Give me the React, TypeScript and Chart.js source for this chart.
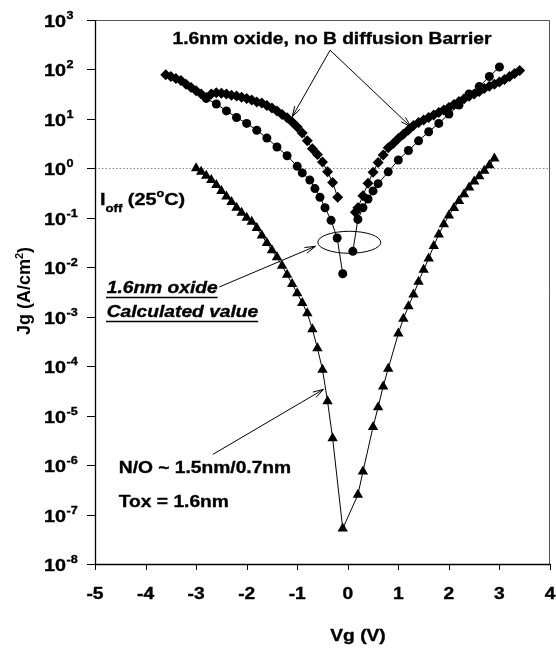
import React, { useEffect, useRef } from 'react';
import { Chart, registerables } from 'chart.js';

Chart.register(...registerables);

// ---- data (Vg in V, Jg in A/cm^2) ----
const diamondLeftX = [-3.6, -3.5, -3.4, -3.3, -3.2, -3.1, -3.0, -2.9, -2.8, -2.7, -2.6, -2.5, -2.4, -2.3, -2.2, -2.1, -2.0, -1.9, -1.8, -1.7, -1.6, -1.5, -1.4, -1.3, -1.2, -1.1, -1.0, -0.9, -0.8, -0.7, -0.6, -0.5, -0.4, -0.3, -0.2];
const diamondLeftY = [78, 72, 66, 60, 50, 43, 37, 32, 27, 32, 34, 33, 32, 30, 29, 27.5, 26, 24, 22, 21, 18.6, 16.6, 14.5, 12.3, 10.5, 8.7, 6.9, 5.2, 3.6, 2.5, 1.9, 1.35, 0.85, 0.52, 0.26];

const diamondRightX = [0.15, 0.2, 0.3, 0.4, 0.5, 0.6, 0.7, 0.8, 0.9, 1.0, 1.1, 1.2, 1.3, 1.4, 1.5, 1.6, 1.7, 1.8, 1.9, 2.0, 2.1, 2.2, 2.3, 2.4, 2.5, 2.6, 2.7, 2.8, 2.9, 3.0, 3.1, 3.2, 3.3, 3.4];
const diamondRightY = [0.13, 0.16, 0.28, 0.5, 0.83, 1.32, 1.86, 2.6, 3.2, 4.0, 4.9, 6.0, 7.4, 8.5, 9.5, 10.7, 12.0, 13.5, 15.1, 17.0, 19.5, 22.4, 25.7, 28.8, 32, 36, 41, 46, 50, 56, 63, 72, 83, 95];

const circleLeftX = [-2.8, -2.6, -2.4, -2.2, -2.0, -1.8, -1.6, -1.4, -1.2, -1.0, -0.9, -0.75, -0.65, -0.55, -0.45, -0.33, -0.21, -0.1];
const circleLeftY = [26, 20, 14.5, 10.7, 8.1, 5.9, 4.1, 2.7, 1.8, 1.1, 0.81, 0.58, 0.39, 0.26, 0.16, 0.089, 0.039, 0.0074];

const circleRightX = [0.1, 0.2, 0.3, 0.4, 0.5, 0.6, 0.8, 1.0, 1.2, 1.4, 1.6, 1.8, 2.0, 2.2, 2.4, 2.6, 2.8, 3.0];
const circleRightY = [0.021, 0.093, 0.16, 0.24, 0.35, 0.49, 0.85, 1.48, 2.3, 3.6, 5.5, 8.1, 12.6, 19, 32, 45, 72, 112];

const triangleX = [-3.0, -2.9, -2.8, -2.7, -2.6, -2.5, -2.4, -2.3, -2.2, -2.1, -2.0, -1.9, -1.8, -1.7, -1.6, -1.5, -1.4, -1.3, -1.2, -1.1, -1.0, -0.9, -0.8, -0.7, -0.6, -0.5, -0.4, -0.3, -0.1, 0.2, 0.3, 0.5, 0.6, 0.7, 0.8, 1.0, 1.1, 1.2, 1.3, 1.4, 1.5, 1.6, 1.7, 1.8, 1.9, 2.0, 2.1, 2.2, 2.3, 2.4, 2.5, 2.6, 2.7, 2.8, 2.9];
const triangleY = [1.0, 0.85, 0.71, 0.58, 0.46, 0.35, 0.27, 0.21, 0.16, 0.126, 0.1, 0.083, 0.062, 0.044, 0.031, 0.022, 0.016, 0.0107, 0.0071, 0.0046, 0.003, 0.0019, 0.00117, 5.6e-4, 2.3e-4, 8.5e-5, 1.95e-5, 3.5e-6, 5.2e-8, 2.5e-7, 7.4e-7, 5.9e-6, 1.48e-5, 3.9e-5, 8.9e-5, 4.6e-4, 9.1e-4, 1.62e-3, 2.8e-3, 5.1e-3, 8.9e-3, 0.015, 0.027, 0.046, 0.074, 0.112, 0.158, 0.22, 0.3, 0.41, 0.54, 0.69, 0.89, 1.15, 1.58];

const xTickValues = [-5, -4, -3, -2, -1, 0, 1, 2, 3, 4];
const yTickExponents = [3, 2, 1, 0, -1, -2, -3, -4, -5, -6, -7, -8];

const FONT = '"Liberation Sans", Arial, Helvetica, sans-serif';
const SX = 1.2;

function toPoints(xs: number[], ys: number[]) {
  return xs.map((x, i) => ({ x, y: ys[i] }));
}

function drawText(ctx: CanvasRenderingContext2D, s: string, x: number, y: number, size: number, align = 'left', italic = false, sx = SX) {
  ctx.save();
  ctx.font = `${italic ? 'italic ' : ''}bold ${size}px ${FONT}`;
  const w = ctx.measureText(s).width * sx;
  let x0 = x;
  if (align === 'center') x0 = x - w / 2;
  else if (align === 'right') x0 = x - w;
  ctx.translate(x0, y);
  ctx.scale(sx, 1);
  ctx.textAlign = 'left';
  ctx.textBaseline = 'alphabetic';
  ctx.fillStyle = '#000';
  ctx.strokeStyle = '#000';
  ctx.lineWidth = 0.35;
  ctx.fillText(s, 0, 0);
  ctx.strokeText(s, 0, 0);
  ctx.restore();
  return w;
}

function arrow(ctx: CanvasRenderingContext2D, x1: number, y1: number, x2: number, y2: number, head = 11, ang = 0.28) {
  ctx.beginPath();
  ctx.moveTo(x1, y1);
  ctx.lineTo(x2, y2);
  ctx.stroke();
  const a = Math.atan2(y2 - y1, x2 - x1);
  ctx.beginPath();
  ctx.moveTo(x2 - head * Math.cos(a - ang), y2 - head * Math.sin(a - ang));
  ctx.lineTo(x2, y2);
  ctx.lineTo(x2 - head * Math.cos(a + ang), y2 - head * Math.sin(a + ang));
  ctx.stroke();
}

const decorPlugin = {
  id: 'decor',
  beforeDatasetsDraw(chart: any) {
    const { ctx, chartArea: a, scales } = chart;
    const y1 = Math.round(scales.y.getPixelForValue(1)) + 0.5;
    ctx.save();
    ctx.strokeStyle = '#888';
    ctx.lineWidth = 1;
    ctx.setLineDash([1.5, 2]);
    ctx.beginPath();
    ctx.moveTo(a.left, y1);
    ctx.lineTo(a.right, y1);
    ctx.stroke();
    ctx.restore();
  },
  afterDraw(chart: any) {
    const { ctx, chartArea: a, scales } = chart;
    const X = (v: number) => scales.x.getPixelForValue(v);
    const Y = (v: number) => scales.y.getPixelForValue(v);
    ctx.save();
    // frame
    ctx.lineWidth = 1;
    ctx.strokeStyle = '#555';
    ctx.beginPath();
    ctx.moveTo(a.left, a.top + 0.5);
    ctx.lineTo(a.right - 0.5, a.top + 0.5);
    ctx.lineTo(a.right - 0.5, a.bottom);
    ctx.stroke();
    ctx.strokeStyle = '#000';
    ctx.lineWidth = 1.3;
    ctx.beginPath();
    ctx.moveTo(a.left + 0.5, a.top);
    ctx.lineTo(a.left + 0.5, a.bottom + 0.5);
    ctx.lineTo(a.right, a.bottom + 0.5);
    ctx.stroke();

    // y ticks + labels
    ctx.lineWidth = 1;
    for (const e of yTickExponents) {
      const ty = Math.round(Y(Math.pow(10, e))) + 0.5;
      ctx.beginPath();
      ctx.moveTo(a.left - 8, ty);
      ctx.lineTo(a.left, ty);
      ctx.stroke();
      const w = drawText(ctx, '10', 44, ty + 6, 16.5, 'left');
      drawText(ctx, String(e), 44 + w + 0.5, ty - 1.5, 10.5, 'left');
    }
    // x ticks + labels
    for (const v of xTickValues) {
      const tx = Math.round(X(v)) + 0.5;
      ctx.beginPath();
      ctx.moveTo(tx, a.bottom);
      ctx.lineTo(tx, a.bottom + 6);
      ctx.stroke();
      drawText(ctx, String(v), X(v), 598.5, 16, 'center');
    }

    // axis titles
    drawText(ctx, 'Vg (V)', 358, 641, 16, 'center');
    ctx.save();
    ctx.translate(29.5, 291);
    ctx.rotate(-Math.PI / 2);
    ctx.font = `bold 18px ${FONT}`;
    ctx.fillStyle = '#000';
    const p1 = 'Jg (A/cm';
    const w1 = ctx.measureText(p1).width;
    ctx.font = `bold 11px ${FONT}`;
    const w2 = ctx.measureText('2').width;
    ctx.font = `bold 18px ${FONT}`;
    const w3 = ctx.measureText(')').width;
    const start = -(w1 + w2 + w3) / 2;
    ctx.textBaseline = 'alphabetic';
    ctx.fillText(p1, start, 0);
    ctx.font = `bold 11px ${FONT}`;
    ctx.fillText('2', start + w1, -7);
    ctx.font = `bold 18px ${FONT}`;
    ctx.fillText(')', start + w1 + w2, 0);
    ctx.restore();

    // top annotation
    drawText(ctx, '1.6nm oxide, no B diffusion Barrier', 332, 43.5, 16, 'center');
    ctx.strokeStyle = '#000';
    ctx.lineWidth = 1;
    const ox = X(-0.35), oy = Y(245);
    arrow(ctx, ox, oy, X(-1.1), Y(11));
    arrow(ctx, ox, oy, X(1.25), Y(6.9));

    // I_off (25 C)
    let cx = 100;
    cx += drawText(ctx, 'I', cx, 205, 16.5);
    cx += drawText(ctx, 'off', cx, 212, 11);
    cx += drawText(ctx, ' (25', cx, 205, 16.5);
    cx += drawText(ctx, 'o', cx, 197, 10.5);
    drawText(ctx, 'C)', cx, 205, 16.5);

    // calculated value label
    const wa = drawText(ctx, '1.6nm oxide', 106.7, 293, 16, 'left', true);
    const wb = drawText(ctx, 'Calculated value', 106.7, 317, 16, 'left', true);
    ctx.lineWidth = 1.4;
    ctx.beginPath();
    ctx.moveTo(106, 297.5); ctx.lineTo(106.7 + wa, 297.5);
    ctx.moveTo(106, 321.5); ctx.lineTo(106.7 + wb, 321.5);
    ctx.stroke();
    ctx.lineWidth = 1;
    arrow(ctx, X(-2.54), Y(0.004), X(-0.64), Y(0.0266));
    ctx.beginPath();
    ctx.ellipse(X(0.03), Y(0.032), 31.5, 11, 0, 0, Math.PI * 2);
    ctx.stroke();

    // N/O label
    arrow(ctx, X(-2.67), Y(1.64e-6), X(-0.48), Y(3.4e-5));
    drawText(ctx, 'N/O ~ 1.5nm/0.7nm', 118.8, 473, 16);
    drawText(ctx, 'Tox = 1.6nm', 118.8, 507, 16);
    ctx.restore();
  },
};

export default function App() {
  const ref = useRef<HTMLCanvasElement | null>(null);
  useEffect(() => {
    document.body.style.margin = '0';
    const canvas = ref.current;
    if (!canvas) return;
    const lineBase = { showLine: true, borderColor: '#000', borderWidth: 1, backgroundColor: '#000', pointBorderColor: '#000', pointBackgroundColor: '#000', pointBorderWidth: 0 };
    const chart = new Chart(canvas, {
      type: 'scatter',
      data: {
        datasets: [
          { ...lineBase, label: 'Triangles N/O', data: toPoints(triangleX, triangleY), pointStyle: 'triangle', pointRadius: 6 },
          { ...lineBase, label: 'Calc left', data: toPoints(circleLeftX, circleLeftY), pointStyle: 'circle', pointRadius: 4.5 },
          { ...lineBase, label: 'Calc right', data: toPoints(circleRightX, circleRightY), pointStyle: 'circle', pointRadius: 4.5 },
          { ...lineBase, label: 'Meas left', data: toPoints(diamondLeftX, diamondLeftY), pointStyle: 'rectRot', pointRadius: 5.5 },
          { ...lineBase, label: 'Meas right', data: toPoints(diamondRightX, diamondRightY), pointStyle: 'rectRot', pointRadius: 5.5 },
        ],
      } as any,
      options: {
        responsive: false,
        animation: false,
        devicePixelRatio: 1,
        layout: { padding: { top: 20, right: 2, left: 0, bottom: 0 } },
        plugins: { legend: { display: false }, tooltip: { enabled: false } },
        scales: {
          x: {
            type: 'linear', min: -5, max: 4,
            grid: { display: false },
            border: { display: false },
            ticks: { display: false, stepSize: 1 },
            afterFit: (s: any) => { s.height = 84; s.paddingLeft = 0; s.paddingRight = 0; },
          },
          y: {
            type: 'logarithmic', min: 1e-8, max: 1e3,
            grid: { display: false },
            border: { display: false },
            ticks: { display: false },
            afterFit: (s: any) => { s.width = 95; s.paddingTop = 0; s.paddingBottom = 0; },
          },
        },
      } as any,
      plugins: [decorPlugin],
    });
    return () => chart.destroy();
  }, []);
  return <canvas ref={ref} width={556} height={648} style={{ display: 'block' }} />;
}
